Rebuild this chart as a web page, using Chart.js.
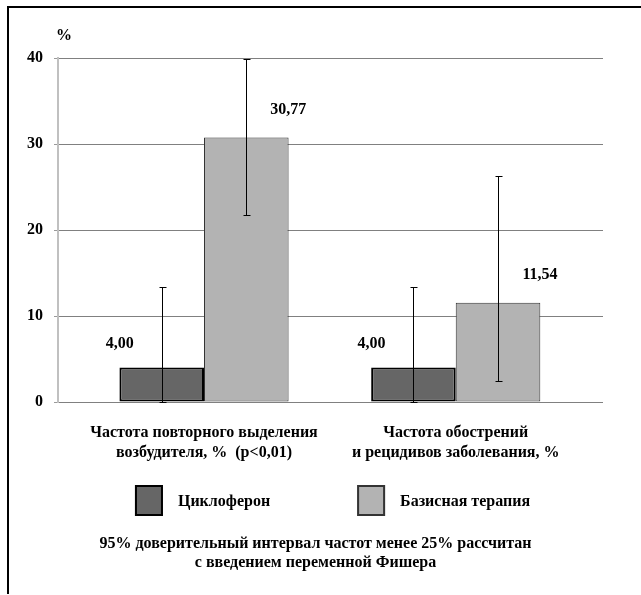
<!DOCTYPE html>
<html><head><meta charset="utf-8">
<script src="https://cdn.jsdelivr.net/npm/chart.js@4/dist/chart.umd.min.js"></script>
<style>
html,body{margin:0;padding:0;background:#fff;}
#wrap{position:relative;width:641px;height:595px;overflow:hidden;}
#frame{position:absolute;left:7px;top:6px;width:640px;height:586px;border-left:2px solid #000;border-top:2px solid #000;pointer-events:none;}
canvas{display:block;}
</style></head><body>
<div id="wrap"><canvas id="c" width="641" height="595"></canvas><div id="frame"></div></div>
<script>
// ---- data ----
const categories = [
  ["Частота повторного выделения", "возбудителя, %  (p<0,01)"],
  ["Частота обострений", "и рецидивов заболевания, %"]
];
const seriesNames = ["Циклоферон", "Базисная терапия"];
const cikloferon = [4.00, 4.00];
const basis = [30.77, 11.54];
const cikloferonLow = [0, 0];
const cikloferonHigh = [13.4, 13.4];
const basisLow = [21.7, 2.4];
const basisHigh = [39.9, 26.3];
const yTicks = [0, 10, 20, 30, 40];
const unitLabel = "%";
const footnote = ["95% доверительный интервал частот менее 25% рассчитан", "с введением переменной Фишера"];

// ---- style ----
const FONT = "'Liberation Serif', 'Times New Roman', serif";
const fontBold = { family: FONT, size: 16, weight: 'bold' };
const fmt = v => v.toFixed(2).replace('.', ',');

const lows = [cikloferonLow, basisLow];
const highs = [cikloferonHigh, basisHigh];
const labelShift = [{ dx: -42, dy: -24 }, { dx: 42, dy: -28 }];

const errorBarsPlugin = {
  id: 'errorBars',
  afterDatasetsDraw(chart) {
    const ctx = chart.ctx, y = chart.scales.y;
    ctx.save();
    ctx.strokeStyle = '#000';
    ctx.lineWidth = 1;
    chart.data.datasets.forEach((ds, di) => {
      const meta = chart.getDatasetMeta(di);
      meta.data.forEach((el, i) => {
        const x = Math.round(el.x) + 0.5;
        const yl = Math.round(y.getPixelForValue(lows[di][i])) + 0.5;
        const yh = Math.round(y.getPixelForValue(highs[di][i])) + 0.5;
        ctx.beginPath();
        ctx.moveTo(x, yl); ctx.lineTo(x, yh);
        ctx.moveTo(x - 3, yh); ctx.lineTo(x + 4, yh);
        ctx.moveTo(x - 3, yl); ctx.lineTo(x + 4, yl);
        ctx.stroke();
      });
    });
    // value labels
    ctx.fillStyle = '#000';
    ctx.font = 'bold 16px ' + FONT;
    ctx.textAlign = 'center';
    ctx.textBaseline = 'middle';
    chart.data.datasets.forEach((ds, di) => {
      const meta = chart.getDatasetMeta(di);
      meta.data.forEach((el, i) => {
        ctx.fillText(fmt(ds.data[i].y), el.x + labelShift[di].dx, el.y + labelShift[di].dy);
      });
    });
    ctx.restore();
  },
  afterDraw(chart) {
    const ctx = chart.ctx, ca = chart.chartArea;
    ctx.save();
    ctx.fillStyle = '#000';
    ctx.font = 'bold 16px ' + FONT;
    ctx.textBaseline = 'middle';
    // unit label
    ctx.textAlign = 'center';
    ctx.fillText(unitLabel, ca.left + 6, ca.top - 22);
    // legend
    const boxW = 28, boxH = 31, gap = 15, itemGap = 87;
    const widths = chart.data.datasets.map(ds => boxW + gap + ctx.measureText(ds.label).width);
    const total = widths.reduce((a, b) => a + b, 0) + itemGap * (widths.length - 1);
    let x = (ca.left + ca.right) / 2 + 2 - total / 2;
    const boxTop = ca.bottom + 83;
    chart.data.datasets.forEach((ds, di) => {
      ctx.fillStyle = ds.backgroundColor;
      ctx.fillRect(x, boxTop, boxW, boxH);
      ctx.strokeStyle = ds.borderColor;
      ctx.lineWidth = 2;
      ctx.strokeRect(x + 1, boxTop + 1, boxW - 2, boxH - 2);
      ctx.fillStyle = '#000';
      ctx.textAlign = 'left';
      ctx.fillText(ds.label, x + boxW + gap, boxTop + boxH / 2 + 1);
      x += widths[di] + itemGap;
    });
    // footnote
    ctx.textAlign = 'center';
    footnote.forEach((line, k) => {
      ctx.fillText(line, (ca.left + ca.right) / 2 - 15, ca.bottom + 142 + k * 19);
    });
    ctx.restore();
  }
};

const toPoints = arr => arr.map((v, i) => ({ x: i, y: v }));

new Chart(document.getElementById('c'), {
  type: 'bar',
  data: {
    datasets: [
      { label: seriesNames[0], data: toPoints(cikloferon), backgroundColor: '#666666', borderColor: '#000000', borderWidth: 2, borderSkipped: false },
      { label: seriesNames[1], data: toPoints(basis), backgroundColor: '#b3b3b3', borderColor: '#333333', borderWidth: 1, borderSkipped: false }
    ]
  },
  options: {
    responsive: false,
    devicePixelRatio: 1,
    animation: false,
    categoryPercentage: 0.672,
    barPercentage: 1,
    layout: { padding: { left: 0, right: 38, top: 58, bottom: 0 } },
    plugins: { legend: { display: false }, tooltip: { enabled: false } },
    scales: {
      x: {
        type: 'linear',
        bounds: 'data',
        offset: false,
        min: -0.58,
        max: 1.585,
        grid: { display: false },
        border: { display: false },
        afterBuildTicks(scale) { scale.ticks = categories.map((c, i) => ({ value: i })); },
        afterFit(scale) { scale.height = 193; },
        ticks: {
          padding: 13,
          autoSkip: false,
          maxRotation: 0,
          color: '#000',
          font: { family: FONT, size: 16, weight: 'bold', lineHeight: 1.25 },
          callback: (v) => categories[v]
        }
      },
      y: {
        min: 0,
        max: 40,
        afterBuildTicks(scale) { scale.ticks = yTicks.map(v => ({ value: v })); },
        afterFit(scale) { scale.width = 58; },
        grid: { color: '#808080', lineWidth: 1, tickLength: 4, tickColor: '#999999' },
        border: { display: true, color: '#c0c0c0', width: 2 },
        ticks: { padding: 11, color: '#000', font: fontBold }
      }
    }
  },
  plugins: [errorBarsPlugin]
});
</script>
</body></html>
